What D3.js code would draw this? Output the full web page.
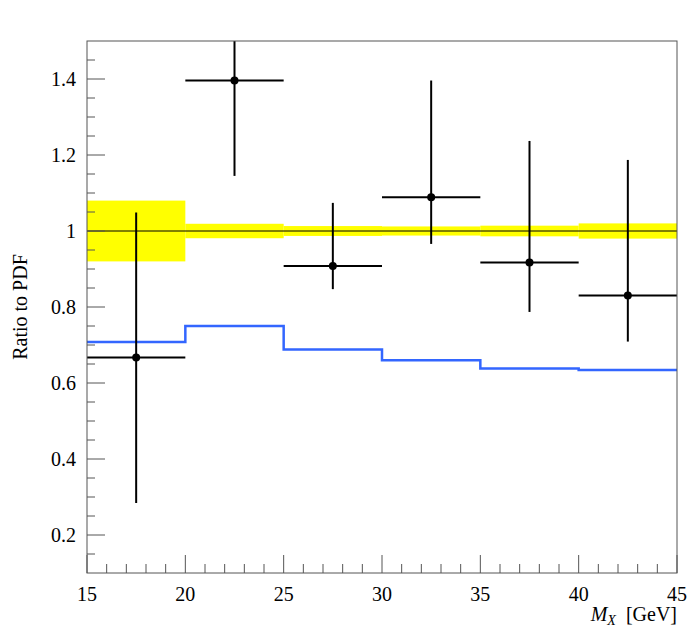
<!DOCTYPE html>
<html>
<head>
<meta charset="utf-8">
<script src="https://cdn.jsdelivr.net/npm/d3@7"></script>
<style>
  body { margin: 0; background: #fff; }
</style>
</head>
<body>
<div id="chart"></div>
<script>
// bin edges (GeV)
const binEdges = [15, 20, 25, 30, 35, 40, 45]
// PDF uncertainty band, half-width around 1
const bandHalf = [0.08, 0.019, 0.013, 0.012, 0.014, 0.02]
// blue model curve, one value per bin
const modelRatio = [0.708, 0.75, 0.688, 0.66, 0.638, 0.634]
// data points
const dataX = [17.5, 22.5, 27.5, 32.5, 37.5, 42.5]
const dataY = [0.667, 1.396, 0.908, 1.089, 0.917, 0.83]
const errLow = [0.284, 1.145, 0.847, 0.966, 0.787, 0.709]
const errHigh = [1.049, 1.6, 1.074, 1.396, 1.237, 1.187]

const xTicks = [15, 20, 25, 30, 35, 40, 45]
const yTicks = [0.2, 0.4, 0.6, 0.8, 1, 1.2, 1.4]

const width = 700, height = 632
const margin = {top: 41, right: 23, bottom: 59, left: 87}
const serif = "'Liberation Serif', 'Times New Roman', 'DejaVu Serif', serif"

const svg = d3.select('#chart').append('svg')
  .attr('width', width)
  .attr('height', height)
  .attr('font-family', serif)
  .style('font-family', serif)

const x = d3.scaleLinear()
  .domain([15, 45])
  .range([margin.left, width - margin.right])

const y = d3.scaleLinear()
  .domain([0.1, 1.5])
  .range([height - margin.bottom, margin.top])

svg.append('clipPath').attr('id', 'plot-clip')
  .append('rect')
  .attr('x', x(15)).attr('y', y(1.5))
  .attr('width', x(45) - x(15)).attr('height', y(0.1) - y(1.5))

const plot = svg.append('g').attr('clip-path', 'url(#plot-clip)')

// yellow band
plot.selectAll('rect.band')
  .data(bandHalf)
  .enter()
  .append('rect')
  .attr('class', 'band')
  .attr('x', (d, i) => x(binEdges[i]))
  .attr('width', (d, i) => x(binEdges[i + 1]) - x(binEdges[i]))
  .attr('y', d => y(1 + d))
  .attr('height', d => y(1 - d) - y(1 + d))
  .attr('fill', '#ffff00')

// line at 1
plot.append('line')
  .attr('x1', x(15)).attr('x2', x(45))
  .attr('y1', y(1)).attr('y2', y(1))
  .attr('stroke', '#000').attr('stroke-width', 1)

// blue step line
const stepPts = []
modelRatio.forEach((v, i) => {
  stepPts.push([binEdges[i], v])
  stepPts.push([binEdges[i + 1], v])
})
plot.append('path')
  .datum(stepPts)
  .attr('fill', 'none')
  .attr('stroke', '#3366ff')
  .attr('stroke-width', 2.5)
  .attr('d', d3.line().x(d => x(d[0])).y(d => y(d[1])))

// data points with errors
const pts = plot.append('g')
dataX.forEach((cx, i) => {
  pts.append('line')
    .attr('x1', x(binEdges[i])).attr('x2', x(binEdges[i + 1]))
    .attr('y1', y(dataY[i])).attr('y2', y(dataY[i]))
    .attr('stroke', '#000').attr('stroke-width', 2)
  pts.append('line')
    .attr('x1', x(cx)).attr('x2', x(cx))
    .attr('y1', y(errLow[i])).attr('y2', y(errHigh[i]))
    .attr('stroke', '#000').attr('stroke-width', 2)
  pts.append('circle')
    .attr('cx', x(cx)).attr('cy', y(dataY[i]))
    .attr('r', 4)
    .attr('fill', '#000')
})

// frame
svg.append('rect')
  .attr('x', x(15)).attr('y', y(1.5))
  .attr('width', x(45) - x(15)).attr('height', y(0.1) - y(1.5))
  .attr('fill', 'none')
  .attr('stroke', '#555').attr('stroke-width', 1)

const axisColor = '#555'

// x axis ticks
const xAxis = svg.append('g')
xAxis.selectAll('line.minor')
  .data(d3.range(16, 45, 1).filter(v => v % 5 != 0))
  .enter().append('line')
  .attr('x1', d => x(d)).attr('x2', d => x(d))
  .attr('y1', y(0.1)).attr('y2', y(0.1) - 9)
  .attr('stroke', axisColor)
xAxis.selectAll('line.major')
  .data(xTicks)
  .enter().append('line')
  .attr('x1', d => x(d)).attr('x2', d => x(d))
  .attr('y1', y(0.1)).attr('y2', y(0.1) - 18)
  .attr('stroke', axisColor)
xAxis.selectAll('text')
  .data(xTicks)
  .enter().append('text')
  .attr('x', d => x(d))
  .attr('y', 601)
  .attr('text-anchor', 'middle')
  .attr('font-size', 20)
  .text(d => d)

// y axis ticks
const yAxis = svg.append('g')
yAxis.selectAll('line.minor')
  .data(d3.range(3, 30).map(v => v * 0.05).filter((v, i) => (i + 3) % 4 != 0))
  .enter().append('line')
  .attr('x1', x(15)).attr('x2', x(15) + 8)
  .attr('y1', d => y(d)).attr('y2', d => y(d))
  .attr('stroke', axisColor)
yAxis.selectAll('line.major')
  .data(yTicks)
  .enter().append('line')
  .attr('x1', x(15)).attr('x2', x(15) + 18)
  .attr('y1', d => y(d)).attr('y2', d => y(d))
  .attr('stroke', axisColor)
yAxis.selectAll('text')
  .data(yTicks)
  .enter().append('text')
  .attr('x', 76)
  .attr('y', d => y(d) + 7)
  .attr('text-anchor', 'end')
  .attr('font-size', 20)
  .text(d => d)

// titles
const xt = svg.append('text')
  .attr('x', x(45))
  .attr('y', 621)
  .attr('text-anchor', 'end')
  .attr('font-size', 20)
xt.append('tspan').attr('font-style', 'italic').text('M')
xt.append('tspan').attr('font-style', 'italic').attr('font-size', 14).attr('dy', 4).text('X')
xt.append('tspan').attr('dy', -4).text('\u00a0\u00a0[GeV]')

svg.append('text')
  .attr('transform', `translate(27,${(y(1.5) + y(0.1)) / 2}) rotate(-90)`)
  .attr('text-anchor', 'middle')
  .attr('font-size', 20)
  .text('Ratio to PDF')
</script>
</body>
</html>
